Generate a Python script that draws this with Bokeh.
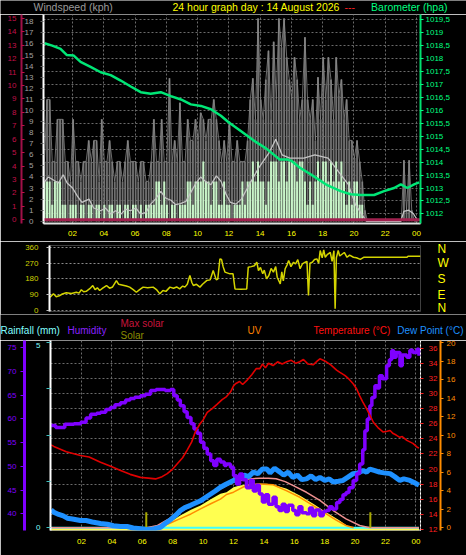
from bokeh.plotting import figure
from bokeh.layouts import column
from bokeh.models import Range1d, LinearAxis, FixedTicker
from bokeh.core.properties import value
from bokeh.embed import file_html
from bokeh.resources import INLINE

# ---------------- data ----------------
hour_ticks = [2, 4, 6, 8, 10, 12, 14, 16, 18, 20, 22, 24]
hour_labels = ["02", "04", "06", "08", "10", "12", "14", "16", "18", "20", "22", "00"]

# wind, one sample every 10 minutes starting 00:12
wind_start = 0.2
wind_step = 1.0 / 6.0
gust = [5.4, 11.0, 11.0, 5.4, 5.4,
        9.2, 9.2, 9.2, 5.4, 5.4, 3.6,
        9.2, 5.4, 5.4, 3.6, 5.4, 5.4,
        7.3, 5.4, 7.3, 7.3, 3.6, 9.2,
        5.4, 5.4, 7.3, 5.4, 3.6, 5.4,
        5.4, 3.6, 5.4, 7.3, 5.4, 5.4,
        5.4, 3.6, 5.4, 5.4, 3.6, 3.6,
        5.4, 9.2, 5.4, 5.4, 9.2, 5.4,
        5.4, 12.9, 5.4, 7.3, 5.4, 10.7,
        5.4, 5.4, 9.2, 7.3, 7.3, 9.2,
        7.3, 9.8, 9.2, 7.3, 9.2, 9.2,
        11.0, 9.2, 7.3, 5.4, 7.3, 5.4,
        9.0, 5.4, 5.4, 7.3, 5.4, 5.4,
        5.4, 7.3, 11.0, 12.9, 9.2, 18.3,
        11.0, 9.2, 12.8, 15.4, 9.2, 16.2,
        11.0, 18.3, 15.7, 18.3, 14.8, 12.8,
        11.0, 14.8, 12.8, 9.2, 11.0, 16.6,
        11.0, 9.2, 11.0, 7.3, 13.0, 9.2,
        14.8, 11.0, 14.8, 12.8, 9.2, 14.8,
        11.3, 12.8, 9.2, 11.0, 7.3, 7.3,
        5.7, 7.3, 5.4, 3.6, 1.0, 0.0,
        0.0, 0.0, 0.0, 0.0, 0.0, 0.0,
        0.0, 0.0, 0.0, 0.0, 0.0, 0.0,
        0.0, 5.5, 1.0, 5.5, 1.0, 0.0,
        0.0]
wind_avg = [3.6, 3.6, 3.6, 1.5, 3.6,
            3.6, 3.6, 1.5, 1.5, 0.0, 1.5,
            1.5, 1.5, 0.0, 1.5, 1.5, 0.0,
            1.5, 1.5, 0.0, 1.5, 1.5, 0.0,
            1.5, 0.0, 1.5, 1.5, 0.0, 1.5,
            1.5, 0.0, 1.5, 1.5, 0.0, 1.5,
            1.5, 0.0, 1.5, 0.0, 1.5, 1.5,
            1.5, 1.5, 3.6, 3.6, 1.5, 3.6,
            1.5, 0.0, 1.5, 1.5, 0.0, 1.5,
            1.5, 1.5, 3.6, 3.6, 1.5, 3.6,
            3.6, 3.6, 5.4, 3.6, 3.6, 1.5,
            3.6, 3.6, 1.5, 1.5, 3.6, 1.5,
            1.5, 0.0, 1.5, 1.5, 1.5, 3.6,
            1.5, 3.6, 3.6, 5.4, 3.6, 5.4,
            3.6, 3.6, 1.5, 3.6, 5.4, 5.4,
            5.4, 3.6, 5.4, 5.4, 3.6, 5.4,
            5.4, 5.4, 3.6, 5.4, 5.4, 3.6,
            1.5, 3.6, 1.5, 3.6, 5.4, 3.6,
            5.4, 5.4, 3.6, 5.4, 3.6, 5.4,
            3.6, 5.4, 3.6, 1.5, 3.6, 1.5,
            3.6, 3.6, 1.5, 1.5, 0.0, 0.0,
            0.0, 0.0, 0.0, 0.0, 0.0, 0.0, 0.0, 0.0, 0.0, 0.0,
            0.0, 0.0, 0.0, 0.0, 0.0, 0.0, 0.0, 0.0, 0.0]
wind_time = [wind_start + i * wind_step for i in range(len(gust))]

wind_smooth = [(0.15, 3.45), (0.45, 4.0), (0.8, 3.7), (1.1, 3.45), (1.4, 4.2), (1.65, 3.45),
               (2.0, 3.0), (2.3, 2.3), (2.6, 1.7), (3.05, 2.0), (3.35, 1.2), (3.8, 0.95),
               (4.1, 1.2), (4.45, 0.65), (4.75, 0.95), (5.1, 0.65), (5.4, 1.1), (5.7, 0.95),
               (6.05, 1.2), (6.35, 0.65), (6.7, 0.8), (7.0, 1.55), (7.3, 2.0), (7.65, 2.7),
               (7.95, 2.1), (8.3, 1.9), (8.6, 1.5), (8.9, 1.6), (9.25, 1.8), (9.6, 2.7),
               (9.9, 3.45), (10.2, 4.0), (10.5, 3.6), (10.85, 3.3), (11.2, 4.1), (11.5, 3.6),
               (11.8, 2.5), (12.1, 1.7), (12.45, 1.55), (12.8, 2.0), (13.3, 3.3), (13.9, 4.8),
               (14.6, 6.25), (15.0, 7.4), (15.4, 6.0), (15.9, 5.7), (16.4, 5.7), (16.8, 5.7),
               (17.5, 6.0), (18.35, 5.7), (19.0, 4.5), (19.65, 3.3), (20.1, 1.5), (20.5, 0.65),
               (20.8, 0.0), (21.5, 0.0), (22.5, 0.0), (23.0, 0.0), (23.2, 0.9), (23.5, 1.0),
               (23.8, 0.7), (24.1, 0.0)]
rain_rate = [(0.14, 0.0), (24.26, 0.0)]

barometer = [(0.2, 1018.59), (0.7, 1018.5), (1.23, 1018.37), (1.62, 1018.14), (2.06, 1018.12),
             (2.51, 1017.87), (3.15, 1017.68), (3.8, 1017.47), (4.44, 1017.36), (5.08, 1017.15),
             (5.72, 1016.92), (6.36, 1016.7), (7.0, 1016.64), (7.64, 1016.7), (8.29, 1016.55),
             (8.93, 1016.42), (9.57, 1016.23), (10.21, 1016.17), (10.85, 1016.04), (11.49, 1015.79),
             (12.0, 1015.53), (12.65, 1015.25), (13.55, 1014.85), (14.4, 1014.52), (15.25, 1014.1),
             (15.75, 1014.1), (16.0, 1014.05), (16.5, 1013.8), (17.44, 1013.45), (18.29, 1013.11),
             (19.15, 1012.88), (19.79, 1012.76), (20.43, 1012.73), (21.29, 1012.73), (21.93, 1012.88),
             (22.57, 1013.0), (23.0, 1013.14), (23.42, 1013.0), (23.85, 1013.14), (24.17, 1013.22)]
baro_ticks = [1012, 1012.5, 1013, 1013.5, 1014, 1014.5, 1015, 1015.5,
              1016, 1016.5, 1017, 1017.5, 1018, 1018.5, 1019, 1019.5]

wind_dir = [(0.0, 77), (0.22, 96), (0.4, 80), (0.6, 85), (0.8, 95), (1.06, 102), (1.4, 98),
            (1.72, 105), (1.9, 100), (2.05, 119), (2.2, 108), (2.37, 110), (2.6, 125), (2.8, 143),
            (2.95, 120), (3.1, 130), (3.25, 115), (3.45, 128), (3.7, 143), (3.9, 128), (4.1, 135),
            (4.35, 171), (4.5, 150), (4.78, 145), (5.0, 140), (5.22, 134), (5.45, 120), (5.66, 105),
            (5.85, 118), (6.1, 134), (6.4, 130), (6.76, 134), (7.0, 118), (7.2, 96), (7.4, 115),
            (7.6, 110), (7.86, 134), (8.1, 128), (8.3, 135), (8.5, 124), (8.7, 140), (8.84, 134),
            (9.0, 150), (9.17, 200), (9.3, 160), (9.4, 143), (9.6, 150), (9.83, 134), (10.0, 150),
            (10.27, 171), (10.5, 175), (10.7, 228), (10.9, 175), (11.0, 180), (11.14, 294),
            (11.25, 290), (11.35, 250), (11.47, 219), (11.8, 209), (12.0, 209), (12.13, 124),
            (12.5, 122), (12.9, 124), (13.0, 247), (13.2, 250), (13.4, 255), (13.56, 275),
            (13.67, 228), (13.8, 245), (13.95, 210), (14.05, 230), (14.2, 181), (14.35, 200),
            (14.5, 240), (14.65, 219), (14.8, 250), (14.9, 190), (15.1, 152), (15.2, 220),
            (15.3, 170), (15.42, 238), (15.55, 260), (15.65, 285), (15.8, 250), (15.97, 275),
            (16.1, 265), (16.25, 290), (16.4, 238), (16.55, 265), (16.74, 275), (16.85, 280),
            (16.95, 87), (17.05, 270), (17.2, 275), (17.35, 290), (17.5, 294), (17.62, 270),
            (17.72, 341), (17.85, 300), (17.95, 345), (18.05, 303), (18.2, 320), (18.38, 330),
            (18.5, 280), (18.62, 340), (18.7, 11), (18.78, 300), (18.9, 341), (19.0, 310),
            (19.15, 320), (19.3, 330), (19.48, 303), (19.65, 315), (19.9, 303), (20.1, 300),
            (20.35, 291), (20.57, 303), (21.0, 303), (21.8, 303), (22.5, 303), (23.0, 303),
            (23.4, 303), (23.5, 309), (24.3, 309)]
dir_ticks = [0, 90, 180, 270, 360]
compass = ["N", "E", "S", "W", "N"]

humidity = [(0.0, 58.6), (0.3, 58.2), (0.6, 58.2), (0.9, 58.9), (1.5, 59.0), (1.95, 59.3),
            (2.3, 60.2), (2.6, 61.0), (3.0, 61.2), (3.25, 61.4), (3.6, 62.0), (3.9, 62.4),
            (4.2, 63.0), (4.56, 63.4), (4.9, 64.0), (5.2, 64.3), (5.5, 64.6), (5.88, 64.9),
            (6.2, 65.2), (6.54, 66.0), (6.9, 66.2), (7.2, 66.2), (7.5, 66.0), (7.86, 66.2),
            (8.07, 64.9), (8.3, 64.0), (8.5, 62.8), (8.75, 61.5), (8.95, 60.3), (9.2, 59.0),
            (9.4, 57.9), (9.6, 57.0), (9.83, 55.1), (10.05, 53.8), (10.27, 52.6), (10.5, 51.2),
            (10.7, 50.2), (10.9, 51.5), (11.14, 50.9), (11.4, 50.2), (11.54, 50.5), (11.8, 49.8),
            (12.0, 48.0), (12.2, 46.3), (12.4, 48.4), (12.6, 47.2), (12.85, 45.5), (13.1, 47.0),
            (13.3, 44.8), (13.5, 46.0), (13.7, 44.2), (13.9, 42.5), (14.1, 44.0), (14.3, 42.0),
            (14.6, 43.5), (14.8, 41.5), (15.0, 40.7), (15.2, 42.0), (15.4, 40.5), (15.6, 41.8),
            (15.9, 40.7), (16.1, 39.8), (16.3, 41.5), (16.5, 40.2), (16.8, 40.0), (17.0, 41.2),
            (17.2, 39.6), (17.4, 40.8), (17.68, 39.6), (17.9, 40.5), (18.1, 40.7), (18.3, 41.5),
            (18.5, 41.0), (18.78, 42.4), (19.0, 43.0), (19.2, 44.0), (19.4, 44.5), (19.6, 45.5),
            (19.87, 47.0), (20.1, 48.5), (20.3, 50.5), (20.5, 53.5), (20.64, 57.5), (20.8, 60.0),
            (20.97, 62.8), (21.1, 64.5), (21.3, 67.0), (21.45, 66.5), (21.6, 69.1), (21.8, 68.5),
            (22.07, 71.2), (22.25, 72.5), (22.4, 74.4), (22.55, 73.0), (22.7, 74.0), (22.95, 71.2),
            (23.1, 73.5), (23.4, 73.0), (23.6, 74.5), (23.8, 74.0), (24.07, 74.7), (24.2, 73.3)]

temperature = [(0.0, 23.2), (0.18, 23.0), (1.0, 22.3), (1.93, 21.8), (2.5, 21.6), (3.25, 20.9),
               (4.0, 20.3), (4.57, 19.8), (5.2, 19.3), (5.88, 18.9), (6.4, 18.8), (6.87, 18.7),
               (7.3, 19.0), (7.64, 19.4), (8.0, 20.0), (8.3, 20.7), (8.65, 21.5), (8.95, 22.5),
               (9.25, 23.6), (9.5, 25.0), (9.8, 26.0), (10.0, 26.5), (10.27, 27.5), (10.6, 28.0),
               (10.93, 28.6), (11.25, 29.2), (11.54, 29.6), (11.8, 30.2), (12.0, 31.0), (12.13, 31.3),
               (12.4, 31.6), (12.6, 31.2), (12.86, 31.7), (13.2, 32.5), (13.5, 33.3), (13.73, 33.3),
               (13.9, 33.9), (14.1, 33.4), (14.3, 34.0), (14.6, 33.7), (14.9, 34.2), (15.2, 33.9),
               (15.5, 34.2), (15.8, 34.4), (16.1, 34.0), (16.36, 34.2), (16.6, 34.5), (16.9, 33.9),
               (17.24, 33.8), (17.5, 34.3), (17.68, 34.6), (17.9, 34.4), (18.1, 34.2), (18.4, 33.8),
               (18.78, 33.1), (19.0, 32.8), (19.32, 32.4), (19.6, 31.9), (19.87, 31.3), (20.1, 30.6),
               (20.3, 29.7), (20.5, 28.9), (20.75, 28.0), (21.0, 27.0), (21.2, 26.2), (21.5, 25.5),
               (21.85, 24.9), (22.1, 25.0), (22.3, 25.1), (22.5, 24.7), (22.7, 24.5), (22.94, 24.2),
               (23.1, 24.3), (23.4, 23.8), (23.6, 23.6), (23.8, 23.4), (24.08, 22.9), (24.2, 22.8)]

dew_point = [(0.0, 14.6), (0.18, 14.3), (0.5, 14.0), (0.8, 13.8), (1.06, 13.5), (1.4, 13.4),
             (1.93, 13.2), (2.3, 13.2), (2.7, 13.0), (3.25, 12.8), (3.7, 12.7), (4.1, 12.5),
             (4.57, 12.4), (5.0, 12.4), (5.4, 12.2), (5.88, 12.1), (6.2, 12.0), (6.5, 12.0),
             (6.8, 12.1), (7.2, 12.3), (7.5, 12.8), (7.86, 13.3), (8.2, 13.9), (8.5, 14.5),
             (8.8, 14.9), (9.17, 15.2), (9.5, 15.5), (9.83, 15.8), (10.2, 16.3), (10.5, 16.7),
             (10.8, 17.1), (11.14, 17.6), (11.5, 18.0), (11.8, 18.3), (12.1, 18.6), (12.4, 18.9),
             (12.7, 19.2), (13.0, 19.0), (13.3, 19.6), (13.6, 19.4), (13.9, 20.0), (14.2, 20.0),
             (14.4, 19.5), (14.7, 20.1), (15.05, 19.6), (15.3, 19.2), (15.6, 19.6), (15.9, 18.9),
             (16.2, 19.2), (16.5, 18.6), (16.8, 18.7), (17.1, 19.1), (17.4, 18.6), (17.68, 18.9),
             (18.0, 18.5), (18.3, 18.7), (18.56, 18.3), (18.9, 18.4), (19.2, 18.5), (19.5, 18.9),
             (19.87, 19.4), (20.2, 19.5), (20.53, 19.8), (20.75, 19.6), (20.97, 20.0), (21.3, 19.8),
             (21.6, 19.6), (21.9, 19.5), (22.3, 19.4), (22.6, 19.0), (22.94, 18.5), (23.2, 18.7),
             (23.6, 18.5), (23.9, 18.2), (24.08, 18.0), (24.2, 17.9)]

max_solar = [(0.0, 0), (6.3, 0), (7.0, 12), (7.64, 42), (8.5, 82), (9.4, 126), (10.27, 161),
             (11.14, 205), (12.0, 240), (12.4, 249), (13.0, 257), (13.7, 261), (14.3, 261),
             (14.8, 258), (15.4, 243), (15.9, 223), (16.8, 187), (17.68, 144), (18.56, 91),
             (19.4, 47), (20.3, 12), (20.97, 0), (24.2, 0)]
solar = [(0.0, 0), (6.3, 0), (7.0, 5), (7.64, 21), (8.5, 65), (9.2, 95), (9.83, 117),
         (10.5, 150), (11.14, 179), (11.54, 187), (12.0, 214), (12.4, 223), (13.3, 232),
         (14.2, 232), (14.8, 223), (15.5, 205), (16.36, 170), (17.24, 126), (18.1, 82),
         (18.98, 38), (19.4, 15), (19.65, 0), (24.2, 0)]
uv_index = [(6.5, 0), (7.2, 0.07), (7.8, 0.5), (8.5, 1.0), (9.2, 1.5), (9.83, 2.05), (10.5, 2.6),
            (11.14, 3.1), (11.54, 3.6), (12.0, 3.85), (12.86, 4.6), (13.7, 4.75), (14.6, 4.65),
            (15.5, 4.0), (16.36, 3.3), (17.24, 2.4), (18.1, 1.5), (18.78, 0.8), (19.4, 0.25),
            (19.9, 0)]
rainfall = [(0.0, 0.0), (24.2, 0.0)]
sun_marks = [(6.26, 82), (21.0, 82)]

# ---------------- styling helpers ----------------
FONT = "Liberation Sans"
BG = "#000000"
GRID = "#6a6a6a"
W = 466
NB = "\u00a0"


def split(pairs):
    return [a for a, _ in pairs], [b for _, b in pairs]


def make_fig(height, xr, yr, left, right, top, bottom, yloc="left", xloc="below"):
    p = figure(width=W, height=height, x_range=xr, y_range=yr,
               output_backend="svg", toolbar_location=None, tools="",
               y_axis_location=yloc, x_axis_location=xloc,
               background_fill_color=BG, border_fill_color=BG,
               min_border_left=left, min_border_right=right,
               min_border_top=top, min_border_bottom=bottom)
    p.outline_line_color = None
    p.frame_align = False
    return p


def header(height):
    p = figure(width=W, height=height, x_range=Range1d(0, W), y_range=Range1d(height, 0),
               output_backend="svg", toolbar_location=None, tools="",
               x_axis_location=None, y_axis_location=None,
               background_fill_color=BG, border_fill_color=BG, min_border=0)
    p.outline_line_color = None
    p.frame_align = False
    p.xgrid.visible = False
    p.ygrid.visible = False
    return p


def put(p, x, y, s, color, size="10px", align="left", baseline="alphabetic"):
    p.text(x=[x], y=[y], text=[s], text_color=color, text_font=value(FONT),
           text_font_size=value(size), text_align=align, text_baseline=baseline)


def style_axis(ax, color, line_color=None, size="8px", tick_in=0, tick_out=3,
               standoff=3, line_width=1, tick_color=None):
    ax.major_label_text_color = color
    ax.major_label_text_font = FONT
    ax.major_label_text_font_size = size
    ax.axis_line_color = line_color
    ax.axis_line_width = line_width
    ax.major_tick_line_color = tick_color if tick_color is not None else color
    ax.major_tick_in = tick_in
    ax.major_tick_out = tick_out
    ax.minor_tick_line_color = None
    ax.major_label_standoff = standoff


hour_over = {t: s for t, s in zip(hour_ticks, hour_labels)}

# ---------------- header 1 ----------------
h1 = header(14)
put(h1, 33, 6.5, "Windspeed (kph)", "#9a9a9a", "10.5px", baseline="middle")
put(h1, 172, 6.5, "24 hour graph day : 14 August 2026", "#ffff00", "10.5px", baseline="middle")
put(h1, 344, 6.5, "---", "#ff2020", "10.5px", baseline="middle")
put(h1, 447, 6.5, "Barometer (hpa)", "#00ff80", "10.5px", align="right", baseline="middle")

# ---------------- panel 1 : wind + barometer ----------------
p1 = make_fig(227, Range1d(0.14, 24.26), Range1d(1011.63, 1019.70), 43, 46, 0, 18, yloc="right")
p1.outline_line_color = "#8a8a8a"
p1.extra_y_ranges = {"wind": Range1d(-0.2, 18.66), "rr": Range1d(-0.27, 15.28)}

baro_ax = p1.yaxis[0]
baro_ax.ticker = FixedTicker(ticks=baro_ticks)
baro_ax.major_label_overrides = {t: (str(int(t)) if t == int(t) else str(t).replace(".", ","))
                                 for t in baro_ticks}
style_axis(baro_ax, "#00ff80", line_color="#00e070", line_width=2, tick_out=3, standoff=2)

wind_ax = LinearAxis(y_range_name="wind", ticker=FixedTicker(ticks=list(range(0, 19))))
style_axis(wind_ax, "#a0a0a0", line_color="#ffffff", line_width=2, tick_out=3, standoff=7,
           tick_color="#606060")
p1.add_layout(wind_ax, "left")
rr_ax = LinearAxis(y_range_name="rr", ticker=FixedTicker(ticks=list(range(0, 16))))
style_axis(rr_ax, "#c0104a", line_color="#a01048", line_width=2, tick_in=3, tick_out=0, standoff=5)
p1.add_layout(rr_ax, "left")

xa1 = p1.xaxis[0]
xa1.ticker = FixedTicker(ticks=hour_ticks)
xa1.major_label_overrides = hour_over
style_axis(xa1, "#ffff00", line_color="#e0e0e0", line_width=2, tick_out=0, standoff=7)

p1.xgrid.ticker = FixedTicker(ticks=hour_ticks)
p1.ygrid.ticker = FixedTicker(ticks=baro_ticks)
for g in (p1.xgrid, p1.ygrid):
    g.grid_line_color = GRID
    g.grid_line_dash = "2 2"
    g.grid_line_width = 1

p1.vbar(x=wind_time, top=gust, bottom=0, width=0.12, y_range_name="wind",
        fill_color="#707070", line_color=None)
p1.line(wind_time, gust, y_range_name="wind", line_color="#888888", line_width=0.8)
p1.vbar(x=wind_time, top=wind_avg, bottom=0, width=0.13, y_range_name="wind",
        fill_color="#c8f4c8", line_color=None)
sx, sy = split(wind_smooth)
p1.line(sx, sy, y_range_name="wind", line_color="#c4c4c4", line_width=1.3)
rx, ry = split(rain_rate)
p1.line(rx, ry, y_range_name="rr", line_color="#a0204e", line_width=3)
bx, by = split(barometer)
p1.line(bx, by, line_color="#00e676", line_width=2.5)

# ---------------- panel 2 : wind direction ----------------
p2 = make_fig(73, Range1d(-0.04, 24.3), Range1d(-3.96, 369.6), 49, 46, 4, 3, xloc=None)
dir_ax = p2.yaxis[0]
dir_ax.ticker = FixedTicker(ticks=dir_ticks)
style_axis(dir_ax, "#d0d000", line_color="#ffffff", line_width=2, tick_out=3, standoff=8,
           tick_color="#c0c0c0", size="8px")
cmp_ax = LinearAxis(ticker=FixedTicker(ticks=dir_ticks))
cmp_ax.major_label_overrides = {t: c for t, c in zip(dir_ticks, compass)}
style_axis(cmp_ax, "#ffff00", line_color=None, tick_out=0, standoff=17, size="12px")
p2.add_layout(cmp_ax, "right")
p2.xgrid.grid_line_color = None
p2.ygrid.ticker = FixedTicker(ticks=dir_ticks)
p2.ygrid.grid_line_color = "#8a8a8a"
p2.ygrid.grid_line_dash = "2 2"
dx, dy = split(wind_dir)
p2.line(dx, dy, line_color="#d4d400", line_width=1.5)

# ---------------- header 3 ----------------
h3 = header(26)
put(h3, 0, 16, "Rainfall (mm)", "#80ffff")
put(h3, 67, 16, "Humidity", "#8a20ff")
put(h3, 120, 9, "Max solar", "#c8143c")
put(h3, 120, 21, "Solar", "#8c8c00")
put(h3, 247, 16, "UV", "#ff8000")
put(h3, 313, 16, "Temperature (°C)", "#ff1010")
put(h3, 463, 16, "Dew Point (°C)", "#1e90ff", align="right")

# ---------------- panel 3 : rain / humidity / solar / uv / temperature ----------------
p3 = make_fig(215, Range1d(-0.04, 24.3), Range1d(11.87, 37.02), 50, 46, 0, 25, yloc="right")
p3.outline_line_color = "#8a8a8a"
p3.extra_y_ranges = {"hum": Range1d(36.48, 76.54), "rain": Range1d(-0.073, 5.06),
                     "uv": Range1d(-0.29, 20.25), "solar": Range1d(-14.2, 985.8)}

temp_ax = p3.yaxis[0]
temp_ax.ticker = FixedTicker(ticks=list(range(12, 37, 2)))
style_axis(temp_ax, "#ff2020", line_color="#ffffff", tick_out=3, standoff=5, tick_color="#ff2020")
temp_ax.axis_line_dash = "2 2"
uv_ax = LinearAxis(y_range_name="uv", ticker=FixedTicker(ticks=list(range(0, 21, 2))))
style_axis(uv_ax, "#ff8c00", line_color="#ff8c00", line_width=2, tick_out=3, standoff=3)
p3.add_layout(uv_ax, "right")

rain_ax = LinearAxis(y_range_name="rain", ticker=FixedTicker(ticks=[0, 1.25, 2.5, 3.75, 5]))
rain_ax.major_label_overrides = {0: NB * 4 + "0", 1.25: "", 2.5: "", 3.75: "", 5: NB * 4 + "5"}
style_axis(rain_ax, "#80ffff", line_color="#ffffff", line_width=2, tick_out=4, standoff=6,
           tick_color="#40c0c0")
p3.add_layout(rain_ax, "left")
hum_ax = LinearAxis(y_range_name="hum", ticker=FixedTicker(ticks=list(range(40, 76, 5))))
style_axis(hum_ax, "#8000ff", line_color="#8000ff", line_width=3, tick_out=4, standoff=4)
p3.add_layout(hum_ax, "left")

xa3 = p3.xaxis[0]
xa3.ticker = FixedTicker(ticks=hour_ticks)
xa3.major_label_overrides = hour_over
style_axis(xa3, "#ffff00", line_color=None, tick_out=0, standoff=8)

p3.xgrid.ticker = FixedTicker(ticks=hour_ticks)
p3.ygrid.ticker = FixedTicker(ticks=list(range(12, 37, 2)))
for g in (p3.xgrid, p3.ygrid):
    g.grid_line_color = GRID
    g.grid_line_dash = "2 2"

solx, soly = split(solar)
p3.varea(x=solx, y1=[-14.2] * len(solx), y2=soly, y_range_name="solar", fill_color="#ffff50")
rfx, rfy = split(rainfall)
p3.line(rfx, rfy, y_range_name="rain", line_color="#40ffff", line_width=2)
msx, msy = split(max_solar)
p3.line(msx, msy, y_range_name="solar", line_color="#f09090", line_width=1.5)
for h, v in sun_marks:
    p3.segment(x0=[h], y0=[0], x1=[h], y1=[v], y_range_name="solar",
               line_color="#a8a800", line_width=2)
ux, uy = split(uv_index)
p3.line(ux, uy, y_range_name="uv", line_color="#ff8c00", line_width=1.5)
dpx, dpy = split(dew_point)
p3.line(dpx, dpy, line_color="#1e90ff", line_width=5)
hx, hy = split(humidity)
p3.step(hx, hy, y_range_name="hum", line_color="#7f00ff", line_width=3.5, mode="after")
tx, ty = split(temperature)
p3.line(tx, ty, line_color="#e00000", line_width=1.6)

layout = column(h1, p1, p2, h3, p3, spacing=0)

html = file_html(layout, INLINE)
html = html.replace("<body>", '<body style="background-color:#000000;">', 1)
open("out.html", "w").write(html)
